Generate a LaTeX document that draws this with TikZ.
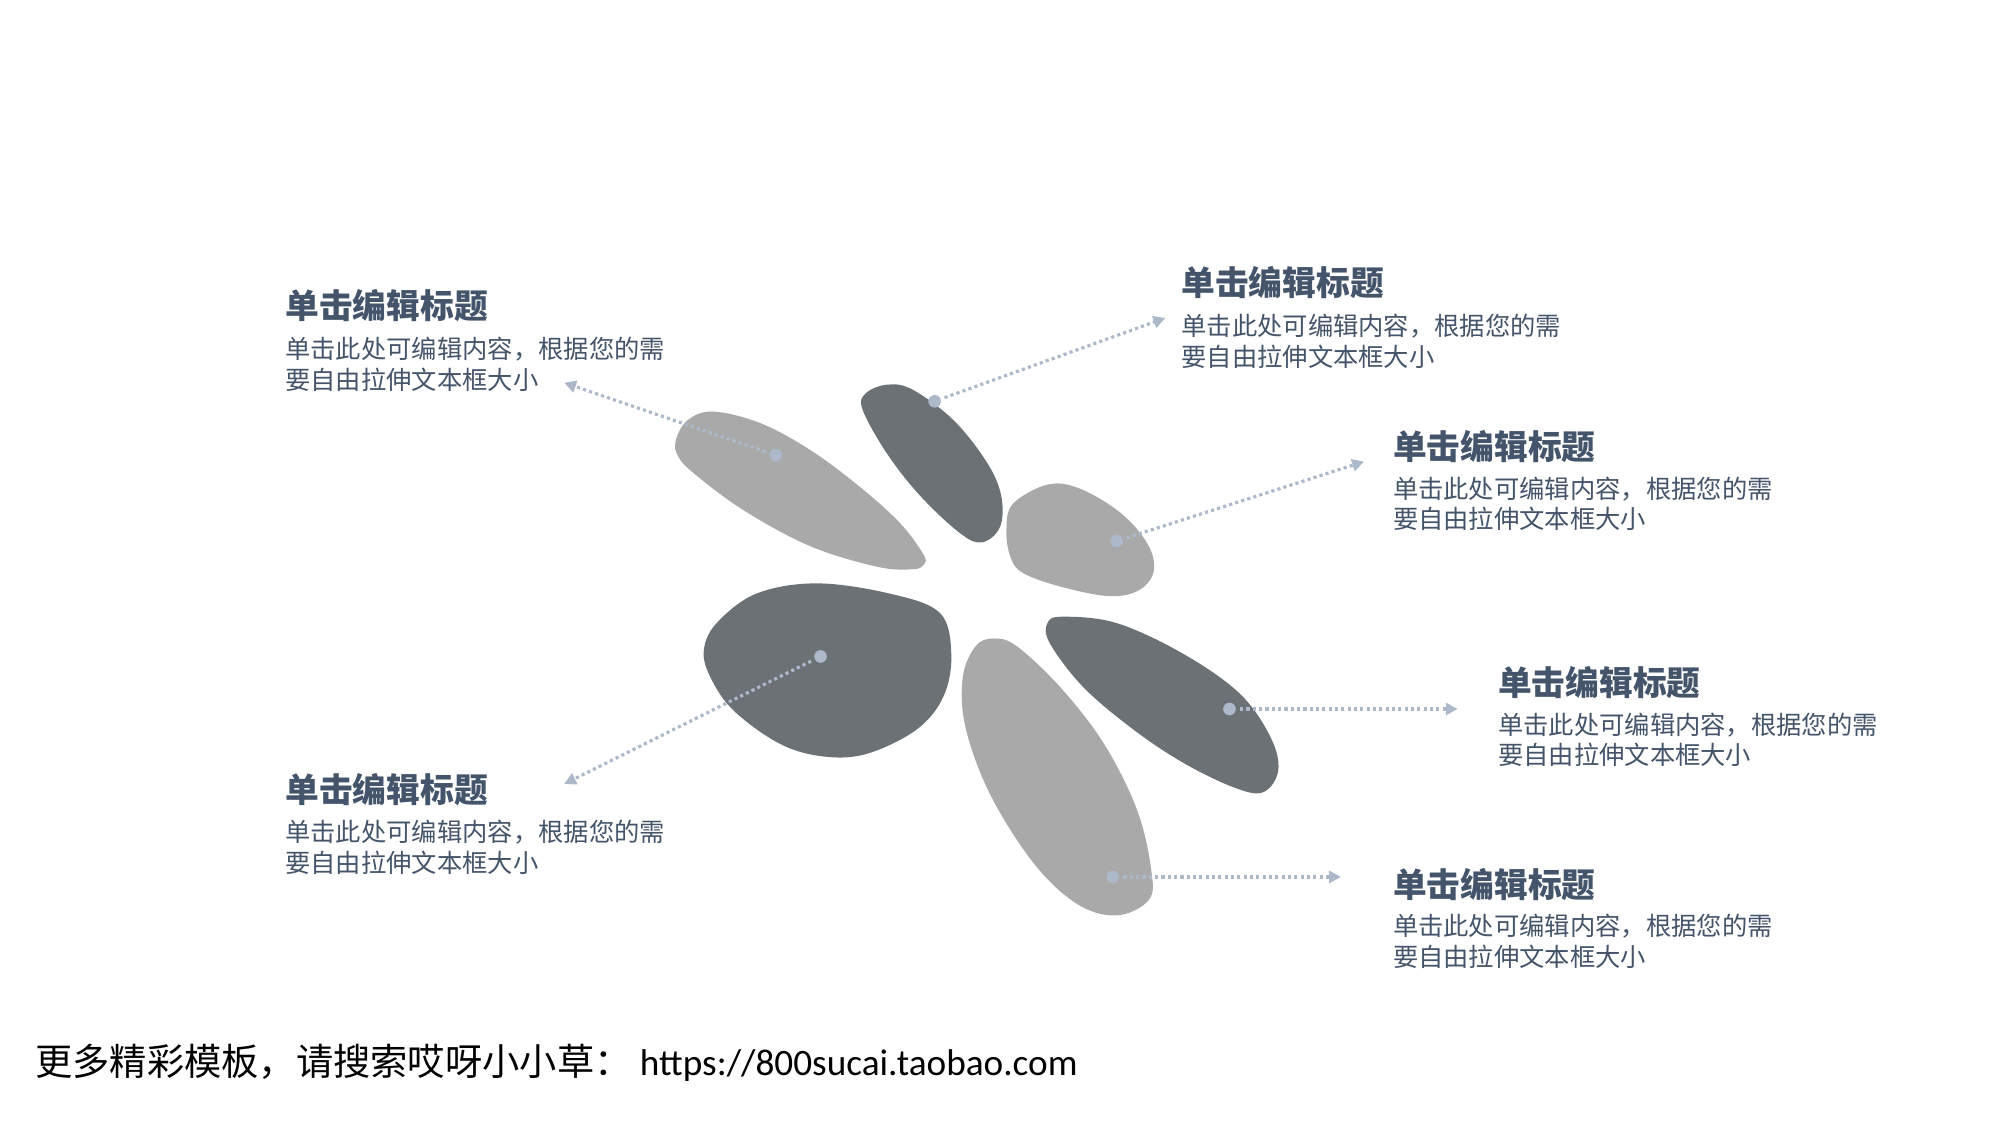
\documentclass[tikz,border=0pt]{standalone}
\usepackage{fontspec}
\setmainfont{Carlito}
\newfontfamily\cjk{Noto Sans CJK SC}
\usetikzlibrary{positioning, arrows.meta}

\definecolor{petallight}{HTML}{A9A9A9}
\definecolor{petaldark}{HTML}{6C7176}
\definecolor{pin}{HTML}{ADB9CA}
\definecolor{ink}{HTML}{44546A}

\tikzset{
    lightpetal/.style={fill=petallight, draw=none},
    darkpetal/.style={fill=petaldark, draw=none},
    ttl/.style={font=\cjk\bfseries\fontsize{9.6}{11}\selectfont, text=ink, inner sep=0, anchor=west},
    bdy/.style={font=\cjk\fontsize{7.2}{8.75}\selectfont, text=ink, inner sep=0, anchor=west, align=left},
    pinline/.style={draw=pin, line width=0.9pt, dash pattern=on 0.9pt off 0.9pt,
                    -{Triangle[length=3.4pt, width=3.4pt]}, shorten <=1pt},
    pindot/.style={circle, fill=pin, inner sep=0, minimum size=3.6pt},
}

\begin{document}
\begin{tikzpicture}[x=0.012821cm, y=-0.012821cm]

    \useasboundingbox (0,0) rectangle (1560,877.5);

    % Draw the petals
    \fill[lightpetal] plot[smooth cycle, tension=0.6] coordinates {
        (527,344) (536,328) (556,321) (593,330) (632,351) (671,380)
        (702,408) (720,432) (721,440) (712,444) (684,442) (632,426)
        (580,398) (541,369) (529,356)};
    \fill[darkpetal] plot[smooth cycle, tension=0.6] coordinates {
        (675,307) (692,300) (712,304) (744,328) (770,361) (781,387)
        (780,411) (766,423) (749,416) (718,387) (692,354) (673,320)};
    \fill[lightpetal] plot[smooth cycle, tension=0.6] coordinates {
        (785,413) (790,393) (817,378) (842,381) (874,400) (895,424)
        (900,445) (889,460) (866,465) (829,458) (798,447) (788,434)};
    \fill[darkpetal] plot[smooth cycle, tension=0.6] coordinates {
        (549,507) (559,486) (590,463) (637,455) (694,463) (733,478)
        (742,510) (736,543) (715,569) (676,588) (642,590) (608,580)
        (572,554) (554,528)};
    \fill[lightpetal] plot[smooth cycle, tension=0.6] coordinates {
        (775,498) (793,504) (827,536) (861,580) (887,632) (898,679)
        (896,702) (871,714) (840,705) (806,673) (772,619) (753,567)
        (751,528) (761,504)};
    \fill[darkpetal] plot[smooth cycle, tension=0.6] coordinates {
        (817,486) (829,481) (871,486) (923,510) (967,541) (991,575)
        (997,601) (985,618) (962,614) (923,595) (884,569) (845,536)
        (819,502)};

    % Pins on the petals
    \node[pindot] (pa) at (605,355) {};
    \node[pindot] (pb) at (729,313) {};
    \node[pindot] (pc) at (871,422) {};
    \node[pindot] (pd) at (640,512) {};
    \node[pindot] (pe) at (868,684) {};
    \node[pindot] (pf) at (959,553) {};

    \coordinate (ea) at (440,298.5);
    \coordinate (eb) at (909,248);
    \coordinate (ec) at (1064,360);
    \coordinate (ed) at (440,611.5);
    \coordinate (ee) at (1046,684);
    \coordinate (ef) at (1137,553);

    % Connect the pins to the labels
    \draw[pinline] (pa) -- (ea);
    \draw[pinline] (pb) -- (eb);
    \draw[pinline] (pc) -- (ec);
    \draw[pinline] (pd) -- (ed);
    \draw[pinline] (pe) -- (ee);
    \draw[pinline] (pf) -- (ef);

    % Labels
    \node[ttl] (ta) at (222,238) {单击编辑标题};
    \node[bdy] (ba) at (222,284) {单击此处可编辑内容，根据您的需\\要自由拉伸文本框大小};
    \node[ttl] (tb) at (921,220) {单击编辑标题};
    \node[bdy] (bb) at (921,266) {单击此处可编辑内容，根据您的需\\要自由拉伸文本框大小};
    \node[ttl] (tc) at (1086,348) {单击编辑标题};
    \node[bdy] (bc) at (1086,393) {单击此处可编辑内容，根据您的需\\要自由拉伸文本框大小};
    \node[ttl] (tf) at (1168,532) {单击编辑标题};
    \node[bdy] (bf) at (1168,577) {单击此处可编辑内容，根据您的需\\要自由拉伸文本框大小};
    \node[ttl] (te) at (1086,690) {单击编辑标题};
    \node[bdy] (be) at (1086,734) {单击此处可编辑内容，根据您的需\\要自由拉伸文本框大小};
    \node[ttl] (td) at (222,616) {单击编辑标题};
    \node[bdy] (bd) at (222,661) {单击此处可编辑内容，根据您的需\\要自由拉伸文本框大小};

    % Footer
    \node[anchor=west, inner sep=0, font=\fontsize{10.6}{12}\selectfont] (foot) at (27,829)
        {{\cjk 更多精彩模板，请搜索哎呀小小草：} https://800sucai.taobao.com};

\end{tikzpicture}
\end{document}
